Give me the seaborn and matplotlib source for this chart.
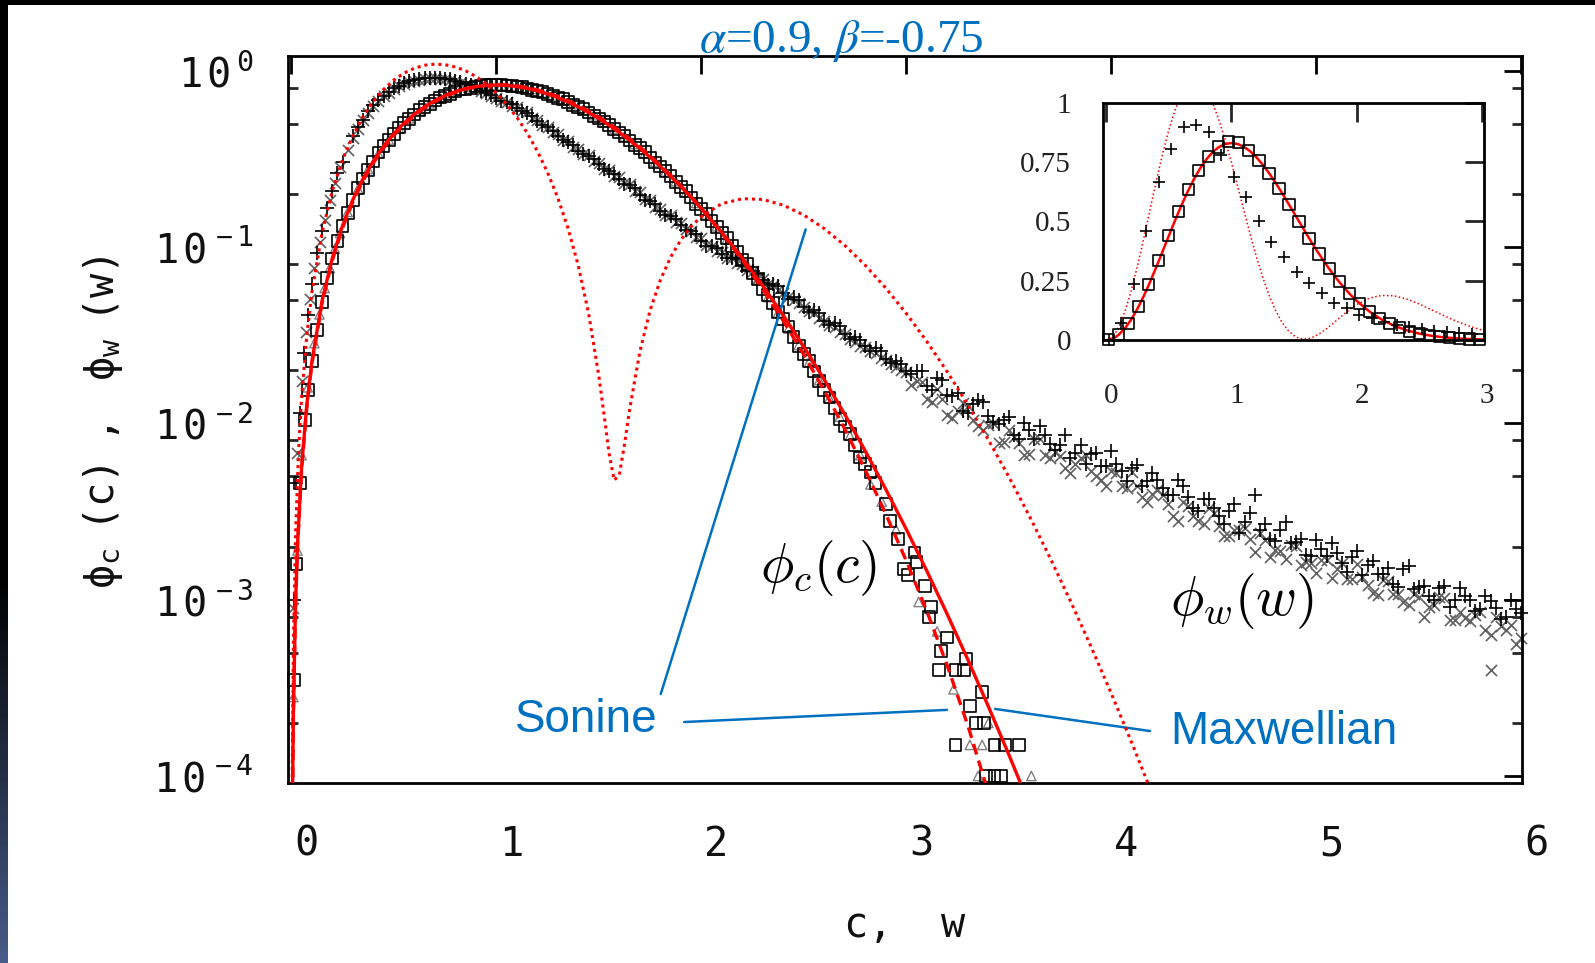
import numpy as np
import pandas as pd
import seaborn as sns
import matplotlib.pyplot as plt
from matplotlib.patches import Rectangle
from matplotlib.ticker import FixedLocator, LogLocator, FuncFormatter, NullFormatter
from matplotlib.transforms import ScaledTranslation

# ---------------- data ----------------

# red solid: Maxwellian phi_c(c) ; red dashed: Sonine phi_c(c)
line_c = [0.006, 0.01, 0.02, 0.03, 0.05, 0.075,
          0.10, 0.15, 0.20, 0.25, 0.30, 0.35, 0.40, 0.45, 0.50, 0.55,
          0.60, 0.65, 0.70, 0.75, 0.80, 0.85, 0.90, 0.95, 1.00, 1.05,
          1.10, 1.15, 1.20, 1.25, 1.30, 1.35, 1.40, 1.45, 1.50, 1.55,
          1.60, 1.65, 1.70, 1.75, 1.80, 1.85, 1.90, 1.95, 2.00,
          2.10, 2.20, 2.30, 2.40, 2.50, 2.60, 2.70, 2.80, 2.90, 3.00,
          3.10, 3.20, 3.30, 3.40, 3.50, 3.60]
maxwell_phi = [8.1e-5, 2.26e-4, 9.02e-4, 2.03e-3, 5.63e-3, 0.01262,
               0.02234, 0.04965, 0.08673, 0.1325, 0.1856, 0.2446, 0.3077, 0.3732, 0.4394, 0.5045,
               0.5668, 0.6249, 0.6774, 0.7233, 0.7616, 0.7921, 0.8133, 0.8261, 0.8302, 0.8261,
               0.8143, 0.7955, 0.7699, 0.7391, 0.7037, 0.6651, 0.6232, 0.5798, 0.5352, 0.4912,
               0.4466, 0.4034, 0.3625, 0.3232, 0.2863, 0.2520, 0.2204, 0.1915, 0.1654,
               0.1211, 0.08637, 0.0602, 0.04096, 0.02722, 0.01768, 0.01123, 0.006966, 0.004225, 0.002506,
               0.001455, 8.25e-4, 4.576e-4, 2.484e-4, 1.323e-4, 6.89e-5]
sonine_phi = [7.8e-5, 2.19e-4, 8.73e-4, 1.97e-3, 5.45e-3, 0.01222,
              0.02164, 0.04812, 0.08411, 0.1286, 0.1804, 0.2380, 0.2999, 0.3644, 0.4298, 0.4945,
              0.5568, 0.6153, 0.6685, 0.7156, 0.7554, 0.7877, 0.8109, 0.8257, 0.8319, 0.8299,
              0.8201, 0.8030, 0.7789, 0.7493, 0.7147, 0.6766, 0.6349, 0.5913, 0.5463, 0.5016,
              0.4561, 0.4118, 0.3697, 0.3292, 0.2911, 0.2555, 0.2228, 0.1928, 0.1658,
              0.1199, 0.08419, 0.05750, 0.03813, 0.02455, 0.01533, 0.009278, 0.005426, 0.003060, 0.001659,
              8.61e-4, 4.22e-4, 1.935e-4, 8.04e-5, 2.8e-5, 6.3e-6]

# red dotted: Sonine phi_w(w)
line_w = [0.004, 0.01, 0.02, 0.035, 0.05, 0.075,
          0.10, 0.15, 0.20, 0.25, 0.30, 0.35, 0.40, 0.45, 0.50, 0.55,
          0.60, 0.65, 0.70, 0.75, 0.80, 0.85, 0.90, 0.95, 1.00, 1.05,
          1.10, 1.15, 1.20, 1.25, 1.30, 1.35, 1.40, 1.45, 1.50,
          1.525, 1.55, 1.575, 1.60, 1.625, 1.65,
          1.70, 1.75, 1.80, 1.85, 1.90, 1.95, 2.00,
          2.10, 2.20, 2.30, 2.40, 2.50, 2.60, 2.70, 2.80, 2.90, 3.00,
          3.10, 3.20, 3.30, 3.40, 3.50, 3.60, 3.70, 3.80, 3.90, 4.00, 4.10, 4.20]
sonine_w_phi = [8.97e-5, 5.61e-4, 2.24e-3, 6.86e-3, 0.01396, 0.03122,
                0.05507, 0.1212, 0.2087, 0.3131, 0.4287, 0.550, 0.6703, 0.7838, 0.8853, 0.9698,
                1.0336, 1.0743, 1.0905, 1.0824, 1.0510, 0.9990, 0.9280, 0.8431, 0.748, 0.6472,
                0.5448, 0.4448, 0.3502, 0.2646, 0.1899, 0.1276, 0.07821, 0.04208, 0.0186,
                0.0113, 0.00676, 0.00476, 0.0051, 0.00758, 0.01194,
                0.02546, 0.04373, 0.06495, 0.08745, 0.1097, 0.1306, 0.1490,
                0.1762, 0.1881, 0.1862, 0.1728, 0.1519, 0.1272, 0.1021, 0.07873, 0.05848, 0.04195,
                0.02914, 0.01958, 0.01276, 0.008077, 0.004982, 0.002986, 0.001738, 9.86e-4, 5.45e-4,
                2.933e-4, 1.541e-4, 7.89e-5]

# simulation phi_c(c): squares and triangles
sq_c = [0.012, 0.025, 0.044, 0.068, 0.083, 0.10, 0.125, 0.15, 0.175, 0.20, 0.225, 0.25,
        0.30, 0.35, 0.40, 0.45, 0.50, 0.55, 0.60, 0.65, 0.70, 0.75,
        0.80, 0.85, 0.90, 0.95, 1.00, 1.05, 1.10, 1.15, 1.20, 1.25,
        1.30, 1.35, 1.40, 1.45, 1.50, 1.55, 1.60, 1.65, 1.70, 1.75,
        1.80, 1.85, 1.90, 1.95, 2.00, 2.05, 2.10, 2.15, 2.20, 2.25,
        2.30, 2.35, 2.40, 2.45, 2.50, 2.55, 2.60, 2.65, 2.70, 2.75,
        2.80, 2.85,
        2.90, 2.92, 2.96, 2.99, 3.01, 3.04, 3.05, 3.09, 3.11, 3.12,
        3.16, 3.17, 3.20, 3.24, 3.24, 3.28, 3.29, 3.31, 3.34, 3.37,
        3.38, 3.39, 3.43, 3.43, 3.46, 3.48, 3.55]
sq_phi = [3.5e-4, 1.6e-3, 4.6e-3, 0.0105, 0.0155, 0.0225, 0.034, 0.049, 0.067, 0.086, 0.108, 0.131,
          0.184, 0.245, 0.306, 0.373, 0.438, 0.505, 0.565, 0.626, 0.678, 0.722,
          0.763, 0.790, 0.815, 0.826, 0.832, 0.825, 0.815, 0.794, 0.770, 0.738,
          0.703, 0.667, 0.622, 0.580, 0.536, 0.490, 0.447, 0.402, 0.363, 0.322,
          0.286, 0.252, 0.220, 0.191, 0.165, 0.141, 0.120, 0.101, 0.085, 0.071,
          0.058, 0.048, 0.039, 0.031, 0.0248, 0.0197, 0.0155, 0.0122, 0.0096, 0.0075,
          0.0059, 0.0046,
          0.0035, 0.0028, 0.0022, 0.0015, 0.00138, 0.00185, 0.00164, 0.0012, 0.0008, 0.00091,
          0.0004, 0.00051, 0.00061, 0.0004, 0.00015, 0.0004, 0.00046, 0.00025, 0.0002, 0.0003,
          0.0002, 0.0001, 0.00015, 0.0001, 0.0001, 0.00015, 0.00015]

tri_c = [0.01, 0.03, 0.05, 0.08, 0.1125, 0.1375, 0.1625, 0.1875, 0.2125, 0.2375,
         0.275, 0.325, 0.375, 0.425, 0.475, 0.525, 0.575, 0.625, 0.675, 0.725,
         0.775, 0.825, 0.875, 0.925, 0.975, 1.025, 1.075, 1.125, 1.175, 1.225,
         1.275, 1.325, 1.375, 1.425, 1.475, 1.525, 1.575, 1.625, 1.675, 1.725,
         1.775, 1.825, 1.875, 1.925, 1.975, 2.025, 2.075, 2.125, 2.175, 2.225,
         2.275, 2.325, 2.375, 2.425, 2.475, 2.525, 2.575, 2.625, 2.675, 2.725,
         2.775, 2.825,
         2.88, 2.95, 3.06, 3.15, 3.23, 3.31, 3.35, 3.37, 3.40, 3.61]
tri_phi = [2.8e-4, 1.9e-3, 6.6e-3, 0.016, 0.0285, 0.0415, 0.0585, 0.076, 0.098, 0.120,
           0.158, 0.214, 0.277, 0.339, 0.407, 0.471, 0.537, 0.595, 0.653, 0.700,
           0.745, 0.776, 0.805, 0.819, 0.831, 0.827, 0.823, 0.804, 0.785, 0.753,
           0.724, 0.683, 0.646, 0.600, 0.559, 0.511, 0.470, 0.424, 0.384, 0.341,
           0.305, 0.268, 0.236, 0.205, 0.178, 0.153, 0.131, 0.111, 0.094, 0.079,
           0.0655, 0.052, 0.0425, 0.0345, 0.0278, 0.0222, 0.0176, 0.0139, 0.0109, 0.0085,
           0.0066, 0.0045,
           0.0036, 0.0025, 0.00097, 0.00066, 0.00031, 0.00015, 0.0001, 0.00015, 0.0002, 0.0001]

# second square run, at the half-bin positions 0.275 ... 2.825
sq2_phi = [0.1560, 0.2170, 0.2730, 0.3440, 0.4030, 0.4760, 0.5320, 0.6010, 0.6480, 0.7060,
           0.7400, 0.7820, 0.8000, 0.8250, 0.8260, 0.8330, 0.8180, 0.8100, 0.7800, 0.7590,
           0.7180, 0.6890, 0.6400, 0.6050, 0.5540, 0.5160, 0.4650, 0.4280, 0.3800, 0.3450,
           0.3020, 0.2710, 0.2340, 0.2070, 0.1760, 0.1545, 0.1300, 0.1125, 0.0935, 0.0798,
           0.0655, 0.0535, 0.0430, 0.0354, 0.0276, 0.0225, 0.0173, 0.0140, 0.0106, 0.0087,
           0.0064, 0.0053]

# simulation phi_w(w): plus and cross markers
plus_w = [0.012, 0.025, 0.04, 0.06, 0.08, 0.10, 0.125, 0.15, 0.175, 0.20, 0.225, 0.25,
          0.30, 0.35, 0.40, 0.45, 0.50, 0.55, 0.60, 0.65, 0.70, 0.75,
          0.80, 0.85, 0.90, 0.95, 1.00, 1.05, 1.10, 1.15, 1.20, 1.25,
          1.30, 1.35, 1.40, 1.45, 1.50, 1.55, 1.60, 1.65, 1.70, 1.75,
          1.80, 1.85, 1.90, 1.95, 2.00, 2.05, 2.10, 2.15, 2.20, 2.25,
          2.30, 2.35, 2.40, 2.45, 2.50, 2.55, 2.60, 2.65, 2.70, 2.75,
          2.80, 2.85, 2.90, 2.95, 3.00,
          3.05, 3.10, 3.15, 3.20, 3.25, 3.30, 3.35, 3.40, 3.45, 3.50,
          3.55, 3.60, 3.65, 3.70, 3.75, 3.80, 3.85, 3.90, 3.95, 4.00,
          4.05, 4.10, 4.15, 4.20, 4.25, 4.30, 4.35, 4.40, 4.45, 4.50,
          4.55, 4.60, 4.65, 4.70, 4.75, 4.80, 4.85, 4.90, 4.95, 5.00,
          5.05, 5.10, 5.15, 5.20, 5.25, 5.30, 5.35, 5.40, 5.45, 5.50,
          5.55, 5.60, 5.65, 5.70, 5.75, 5.80, 5.85, 5.90, 5.95, 6.00]
plus_phi = [0.0010, 0.0046, 0.0115, 0.025, 0.041, 0.062, 0.093, 0.124, 0.166, 0.208, 0.262, 0.305,
            0.425, 0.528, 0.640, 0.722, 0.795, 0.848, 0.889, 0.912, 0.915, 0.902,
            0.878, 0.842, 0.802, 0.752, 0.698, 0.662, 0.615, 0.574, 0.521, 0.478,
            0.428, 0.393, 0.352, 0.328, 0.294, 0.270, 0.243, 0.224, 0.198, 0.182,
            0.160, 0.150, 0.133, 0.124, 0.108, 0.102, 0.091, 0.087, 0.078, 0.073,
            0.065, 0.062, 0.055, 0.052, 0.046, 0.044, 0.038, 0.037, 0.032, 0.031,
            0.0275, 0.0268, 0.0232, 0.0226, 0.0198,
            0.0198, 0.0162, 0.0180, 0.0145, 0.0148, 0.0114, 0.0136, 0.0110, 0.0099, 0.0108,
            0.0081, 0.0092, 0.0097, 0.0076, 0.0075, 0.0064, 0.0075, 0.0067, 0.0057, 0.0070,
            0.0054, 0.0056, 0.0044, 0.0052, 0.0043, 0.0039, 0.0044, 0.0033, 0.0037, 0.0033,
            0.0027, 0.0035, 0.00274, 0.0039, 0.0027, 0.00214, 0.00274, 0.00213, 0.00179, 0.00217,
            0.00178, 0.00184, 0.00144, 0.0019, 0.00157, 0.00139, 0.00151, 0.00118, 0.00156, 0.00118,
            0.00105, 0.00116, 0.00091, 0.00116, 0.00099, 0.00088, 0.00098, 0.00078, 0.00100, 0.00084]

cross_w = [0.01, 0.03, 0.05, 0.07, 0.09, 0.1125, 0.1375, 0.1625, 0.1875, 0.2125, 0.2375,
           0.275, 0.325, 0.375, 0.425, 0.475, 0.525, 0.575, 0.625, 0.675, 0.725,
           0.775, 0.825, 0.875, 0.925, 0.975, 1.025, 1.075, 1.125, 1.175, 1.225,
           1.275, 1.325, 1.375, 1.425, 1.475, 1.525, 1.575, 1.625, 1.675, 1.725,
           1.775, 1.825, 1.875, 1.925, 1.975, 2.025, 2.075, 2.125, 2.175, 2.225,
           2.275, 2.325, 2.375, 2.425, 2.475, 2.525, 2.575, 2.625, 2.675, 2.725,
           2.775, 2.825, 2.875, 2.925, 2.975,
           3.025, 3.075, 3.125, 3.175, 3.225, 3.275, 3.325, 3.375, 3.425, 3.475,
           3.525, 3.575, 3.625, 3.675, 3.725, 3.775, 3.825, 3.875, 3.925, 3.975,
           4.025, 4.075, 4.125, 4.175, 4.225, 4.275, 4.325, 4.375, 4.425, 4.475,
           4.525, 4.575, 4.625, 4.675, 4.725, 4.775, 4.825, 4.875, 4.925, 4.975,
           5.025, 5.075, 5.125, 5.175, 5.225, 5.275, 5.325, 5.375, 5.425, 5.475,
           5.525, 5.575, 5.625, 5.675, 5.725, 5.775, 5.825, 5.875, 5.925, 5.975,
           5.85]
cross_phi = [0.0009, 0.0068, 0.0175, 0.033, 0.051, 0.076, 0.107, 0.143, 0.186, 0.232, 0.283,
             0.355, 0.47, 0.578, 0.675, 0.75, 0.815, 0.86, 0.89, 0.905, 0.898,
             0.882, 0.855, 0.818, 0.768, 0.718, 0.675, 0.632, 0.59, 0.54, 0.49,
             0.447, 0.405, 0.368, 0.336, 0.306, 0.278, 0.252, 0.23, 0.208, 0.187,
             0.168, 0.152, 0.139, 0.126, 0.114, 0.103, 0.095, 0.087, 0.081, 0.074,
             0.067, 0.062, 0.057, 0.052, 0.048, 0.0435, 0.0395, 0.0362, 0.033, 0.0302,
             0.0275, 0.0258, 0.0236, 0.0218, 0.0200,
             0.0165, 0.0172, 0.0132, 0.0138, 0.0107, 0.0130, 0.0104, 0.0092, 0.0100, 0.0078,
             0.0084, 0.0066, 0.0081, 0.0066, 0.0069, 0.0056, 0.0059, 0.0066, 0.0050, 0.0044,
             0.0052, 0.0043, 0.0044, 0.0036, 0.0042, 0.0035, 0.0028, 0.0034, 0.0028, 0.0033,
             0.0026, 0.0023, 0.0025, 0.0022, 0.0024, 0.00175, 0.00188, 0.00205, 0.00157, 0.00161,
             0.00167, 0.00133, 0.00162, 0.00131, 0.00134, 0.00109, 0.0013, 0.00107, 0.00097, 0.00108,
             0.0008, 0.00093, 0.00102, 0.00077, 0.00079, 0.00082, 0.00067, 0.0008, 0.00067, 0.00056,
             0.0004]

# second plus run, at the cross positions 0.325 ... 5.975
plus2_phi = [0.48, 0.59, 0.684, 0.762, 0.818, 0.871, 0.9, 0.912, 0.905, 0.893,
             0.86, 0.83, 0.77, 0.728, 0.676, 0.645, 0.592, 0.551, 0.492, 0.457,
             0.405, 0.377, 0.336, 0.314, 0.277, 0.26, 0.229, 0.215, 0.186, 0.175,
             0.151, 0.145, 0.125, 0.119, 0.102, 0.099, 0.087, 0.085, 0.073, 0.071,
             0.061, 0.060, 0.051, 0.050, 0.043, 0.042, 0.036, 0.0355, 0.030, 0.0298,
             0.0258, 0.0257, 0.0219, 0.0218,
             0.0191, 0.0197, 0.0154, 0.0176, 0.0143, 0.0117, 0.0129, 0.0133, 0.0102, 0.0104,
             0.0086, 0.0100, 0.0082, 0.0086, 0.0071, 0.0086, 0.0068, 0.0059, 0.0068, 0.0057,
             0.0059, 0.0047, 0.0058, 0.0047, 0.0048, 0.0039, 0.0048, 0.0038, 0.0032, 0.0037,
             0.0030, 0.0032, 0.0024, 0.0031, 0.0025, 0.0022, 0.0025, 0.0021, 0.0022, 0.00177,
             0.00193, 0.0021, 0.00162, 0.00174, 0.00138, 0.00165, 0.0014, 0.00123, 0.0015, 0.00115,
             0.0012, 0.00099, 0.0012, 0.0010, 0.00105, 0.00086, 0.00105, 0.0009, 0.0008, 0.00089]

# second cross run, at the plus positions 0.30 ... 6.00
cross2_phi = [0.415, 0.525, 0.63, 0.715, 0.785, 0.84, 0.88, 0.9, 0.905, 0.895,
              0.874, 0.846, 0.795, 0.748, 0.703, 0.664, 0.625, 0.58, 0.528, 0.482,
              0.438, 0.398, 0.362, 0.331, 0.30, 0.273, 0.25, 0.227, 0.204, 0.184,
              0.165, 0.151, 0.137, 0.124, 0.112, 0.102, 0.094, 0.087, 0.08, 0.073,
              0.066, 0.061, 0.055, 0.05, 0.046, 0.042, 0.038, 0.035, 0.032, 0.029,
              0.027, 0.025, 0.023, 0.021, 0.0195,
              0.0173, 0.0138, 0.0156, 0.0112, 0.0117, 0.0126, 0.0096, 0.0098, 0.0077, 0.0092,
              0.0077, 0.0067, 0.0081, 0.0064, 0.0065, 0.0052, 0.0064, 0.0054, 0.0048, 0.0054,
              0.0044, 0.0053, 0.0038, 0.0040, 0.0039, 0.0030, 0.0036, 0.0030, 0.0027, 0.0031,
              0.0023, 0.0025, 0.00256, 0.00186, 0.00219, 0.00192, 0.0017, 0.00202, 0.00163, 0.00142,
              0.00167, 0.00149, 0.00131, 0.00159, 0.00121, 0.00106, 0.00127, 0.00108, 0.00093, 0.00104,
              0.00091, 0.00103, 0.00077, 0.00085, 0.00076, 0.00085, 0.00063, 0.00071, 0.00072, 0.00061]

# inset (linear scale)
in_c = [0.02, 0.10, 0.18, 0.26, 0.34, 0.42, 0.50, 0.58, 0.66, 0.74,
        0.82, 0.90, 0.98, 1.06, 1.14, 1.22, 1.30, 1.38, 1.46, 1.54,
        1.62, 1.70, 1.78, 1.86, 1.94, 2.02, 2.10, 2.18, 2.26, 2.34,
        2.42, 2.50, 2.58, 2.66, 2.74, 2.82, 2.90, 2.98]
in_c_phi = [0.0009, 0.0223, 0.0708, 0.1426, 0.2324, 0.3337, 0.4394, 0.5424, 0.6359, 0.7147,
            0.7747, 0.8133, 0.8350, 0.8340, 0.7995, 0.7585, 0.7037, 0.6400, 0.5710, 0.4996,
            0.4293, 0.3625, 0.3003, 0.2455, 0.1970, 0.1556, 0.1211, 0.0925, 0.0698, 0.0517,
            0.0378, 0.0272, 0.0193, 0.0135, 0.0093, 0.0063, 0.0042, 0.0028]
in_w = [0.02, 0.12, 0.22, 0.32, 0.42, 0.52, 0.62, 0.72, 0.82, 0.92,
        1.02, 1.12, 1.22, 1.32, 1.42, 1.52, 1.62, 1.72, 1.82, 1.92,
        2.02, 2.12, 2.22, 2.32, 2.42, 2.52, 2.62, 2.72, 2.82, 2.92]
in_w_phi = [0.002, 0.07, 0.236, 0.459, 0.667, 0.803, 0.899, 0.906, 0.878, 0.78,
            0.688, 0.604, 0.503, 0.414, 0.348, 0.288, 0.242, 0.200, 0.154, 0.133,
            0.105, 0.093, 0.078, 0.063, 0.053, 0.046, 0.040, 0.032, 0.028, 0.024]

y_major = [1e-4, 1e-3, 1e-2, 1e-1, 1.0]

# tables (also checks the lengths)
sq = pd.concat([pd.DataFrame({"c": sq_c, "phi": sq_phi}),
                pd.DataFrame({"c": tri_c[10:62], "phi": sq2_phi})])
tri = pd.DataFrame({"c": tri_c, "phi": tri_phi})
plus = pd.concat([pd.DataFrame({"w": plus_w, "phi": plus_phi}),
                  pd.DataFrame({"w": cross_w[12:126], "phi": plus2_phi})])
cross = pd.concat([pd.DataFrame({"w": cross_w, "phi": cross_phi}),
                   pd.DataFrame({"w": plus_w[12:127], "phi": cross2_phi})])
lc = pd.DataFrame({"c": line_c, "max": maxwell_phi, "son": sonine_phi})
lw_ = pd.DataFrame({"w": line_w, "son": sonine_w_phi})
inc = pd.DataFrame({"c": in_c, "phi": in_c_phi})
inw = pd.DataFrame({"w": in_w, "phi": in_w_phi})

# ---------------- style ----------------
sns.set_theme(style="white")
plt.rcParams["font.family"] = ["DejaVu Sans Mono", "DejaVu Sans"]
plt.rcParams["mathtext.fontset"] = "custom"
plt.rcParams["mathtext.rm"] = "DejaVu Sans Mono"
plt.rcParams["mathtext.it"] = "DejaVu Sans Mono"
plt.rcParams["mathtext.bf"] = "DejaVu Sans Mono"
plt.rcParams["axes.linewidth"] = 2.0
plt.rcParams["axes.edgecolor"] = "black"

BLUE = "#0070c0"
RED = "#ff0000"
TXT = "#111111"

fig = plt.figure(figsize=(15.95, 9.63), dpi=100)
fig.patch.set_facecolor("white")

# ---------------- main panel ----------------
ax = fig.add_axes([0.1806, 0.1869, 0.7737, 0.7549])
ax.set_yscale("log")

sns.scatterplot(data=tri, x="c", y="phi", ax=ax, marker="^", s=45, facecolors="none",
                edgecolor="#808080", linewidth=1.0, clip_on=False, zorder=2)
sns.scatterplot(data=cross, x="w", y="phi", ax=ax, marker="x", s=64, color="#606060",
                linewidth=1.2, clip_on=False, zorder=2)
sns.scatterplot(data=sq, x="c", y="phi", ax=ax, marker="s", s=72, facecolors="none",
                edgecolor="black", linewidth=1.2, clip_on=False, zorder=3)
sns.scatterplot(data=plus, x="w", y="phi", ax=ax, marker="+", s=100, color="black",
                linewidth=1.2, clip_on=False, zorder=3)

sns.lineplot(data=lc, x="c", y="max", ax=ax, color=RED, lw=2.4, estimator=None, sort=False, zorder=4)
sns.lineplot(data=lc, x="c", y="son", ax=ax, color=RED, lw=2.4, estimator=None, sort=False,
             linestyle=(0, (3.3, 1.9)), zorder=4)
sns.lineplot(data=lw_, x="w", y="son", ax=ax, color=RED, lw=2.2, estimator=None, sort=False,
             linestyle=(0, (1, 1.3)), zorder=4)

ax.set_xlim(-0.016, 6.004)
ax.set_ylim(10 ** -4.04, 10 ** 0.0834)
ax.set_xlabel("")
ax.set_ylabel("")
ax.xaxis.set_major_locator(FixedLocator(range(7)))
ax.yaxis.set_major_locator(FixedLocator(y_major))
ax.yaxis.set_minor_locator(LogLocator(base=10, subs=(2.0, 5.0, 8.0), numticks=20))
ax.yaxis.set_major_formatter(FuncFormatter(lambda v, p: r"$1\,0^{\ %d}$" % round(np.log10(v))))
ax.yaxis.set_minor_formatter(NullFormatter())
ax.xaxis.set_minor_locator(FixedLocator([]))
ax.tick_params(which="major", direction="in", length=13, width=2, top=True, right=True,
               labelsize=29, labelcolor=TXT, color="black")
ax.tick_params(which="minor", direction="in", length=7, width=2, left=True, right=True)
ax.tick_params(axis="x", pad=30)
ax.tick_params(axis="y", pad=25)
for lab in ax.get_xticklabels():
    lab.set_transform(lab.get_transform() + ScaledTranslation(0.15, 0, fig.dpi_scale_trans))

# text labels
ax.text(0.430, 0.296, r"$\phi_c(c)$", transform=ax.transAxes, fontsize=40,
        math_fontfamily="cm", ha="center", va="center", color="black")
ax.text(0.773, 0.250, r"$\phi_w(w)$", transform=ax.transAxes, fontsize=40,
        math_fontfamily="cm", ha="center", va="center", color="black")
ax.text(0.242, 0.0867, "Sonine", transform=ax.transAxes, fontsize=33,
        family="Liberation Sans", color=BLUE, ha="center", va="center")
ax.text(0.715, 0.070, "Maxwellian", transform=ax.transAxes, fontsize=33,
        family="Liberation Sans", color=BLUE, ha="left", va="center")

lead = dict(arrowstyle="-", color=BLUE, lw=1.8, shrinkA=0, shrinkB=0)
ax.annotate("", xy=(3.198, 2.37e-4), xycoords="data", xytext=(0.321, 0.0839),
            textcoords="axes fraction", arrowprops=lead)
ax.annotate("", xy=(2.509, 0.126), xycoords="data", xytext=(0.302, 0.1224),
            textcoords="axes fraction", arrowprops=lead)
ax.annotate("", xy=(3.433, 2.4e-4), xycoords="data", xytext=(0.6985, 0.0715),
            textcoords="axes fraction", arrowprops=lead)

# axis titles
fig.text(103 / 1595, 1 - 422 / 963, r"$\phi_{c}\ \ (c)\ \ ,\ \ \ \ \phi_{w}\ \ (w)$", rotation=90,
         ha="center", va="center", fontsize=29, color=TXT)
fig.text(905 / 1595, 1 - 926 / 963, "c,  w", ha="center", va="center", fontsize=29, color=TXT)
fig.text(841 / 1595, 1 - 52 / 963, r"$\alpha$=0.9, $\beta$=-0.75", ha="center", va="baseline",
         fontsize=34, family="Liberation Serif", math_fontfamily="stix", color=BLUE)

# ---------------- inset ----------------
axin = fig.add_axes([0.6916, 0.6469, 0.2386, 0.2464])
sns.lineplot(data=lw_, x="w", y="son", ax=axin, color=RED, lw=1.1, estimator=None, sort=False,
             linestyle=(0, (1, 1.6)), zorder=2)
sns.lineplot(data=lc, x="c", y="max", ax=axin, color=RED, lw=1.8, estimator=None, sort=False, zorder=2)
sns.scatterplot(data=inc, x="c", y="phi", ax=axin, marker="s", s=64, facecolors="none",
                edgecolor="black", linewidth=1.2, clip_on=False, zorder=3)
sns.scatterplot(data=inw, x="w", y="phi", ax=axin, marker="+", s=81, color="black",
                linewidth=1.2, clip_on=False, zorder=3)
axin.set_xlim(-0.025, 3.015)
axin.set_ylim(0, 1)
axin.set_xlabel("")
axin.set_ylabel("")
axin.set_xticks([0, 1, 2, 3])
axin.set_xticklabels(["0", "1", "2", "3"], fontfamily="Liberation Serif", fontsize=21, color="#222222")
axin.set_yticks([0, 0.25, 0.5, 0.75, 1])
axin.set_yticklabels(["0", "0.25", "0.5", "0.75", "1"], fontfamily="Liberation Serif", fontsize=21,
                     color="#222222")
axin.tick_params(direction="in", length=14, width=2, top=True, right=True)
axin.tick_params(axis="x", pad=31)
axin.tick_params(axis="y", pad=23)
for lab in axin.get_xticklabels():
    lab.set_transform(lab.get_transform() + ScaledTranslation(0.05, 0, fig.dpi_scale_trans))

# ---------------- slide frame ----------------
strip = fig.add_axes([0, 0, 8 / 1595, 1])
t = np.clip((np.linspace(0, 1, 256) - 0.6) / 0.4, 0, 1)
grad = np.stack([0.28 * t, 0.36 * t, 0.54 * t], axis=-1)[:, None, :]
strip.imshow(grad, aspect="auto")
strip.axis("off")
fig.add_artist(Rectangle((0, 1 - 5 / 963), 1, 5 / 963, transform=fig.transFigure,
                         facecolor="black", edgecolor="none", zorder=10))

fig.savefig("out.png", dpi=100)
